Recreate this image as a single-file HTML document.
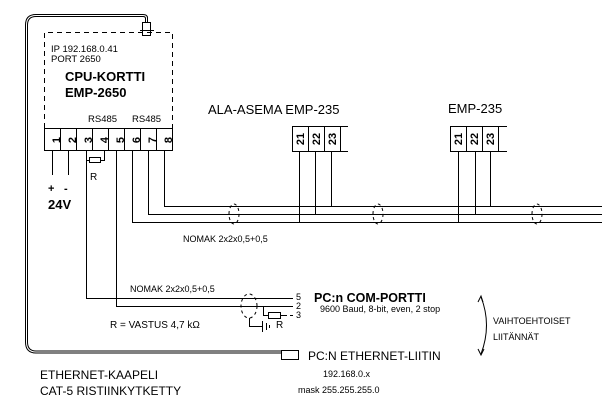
<!DOCTYPE html>
<html><head><meta charset="utf-8"><style>
html,body{margin:0;padding:0;background:#fff;}
svg{display:block;font-family:"Liberation Sans",sans-serif;}
</style></head><body>
<svg width="602" height="415" viewBox="0 0 602 415" xmlns="http://www.w3.org/2000/svg">
<g fill="none" stroke="#000" stroke-width="1">
<path d="M147.5 22 V18 Q147.5 14.5 143 14.5 H36 Q25.5 14.5 25.5 25 V342 Q25.5 353 36 353 H281"/>
<path d="M145.5 22 V18.5 Q145.5 16.5 143 16.5 H36 Q27.5 16.5 27.5 25 V342 Q27.5 351 36 351 H281" stroke="#000"/>
<rect x="142.5" y="22.5" width="8" height="13" fill="#fff"/>
<line x1="140" y1="30.5" x2="154" y2="30.5"/>
<rect x="281.5" y="350.5" width="17" height="9" fill="#fff"/>
<path d="M44.5 128 V32.5 H172.5 V128" stroke-dasharray="5,4"/>
<rect x="44.5" y="128.5" width="128" height="22"/>
<line x1="60.5" y1="128" x2="60.5" y2="151"/><line x1="76.5" y1="128" x2="76.5" y2="151"/>
<line x1="92.5" y1="128" x2="92.5" y2="151"/><line x1="108.5" y1="128" x2="108.5" y2="151"/>
<line x1="124.5" y1="128" x2="124.5" y2="151"/><line x1="140.5" y1="128" x2="140.5" y2="151"/>
<line x1="156.5" y1="128" x2="156.5" y2="151"/>
<line x1="52.5" y1="151" x2="52.5" y2="175"/><line x1="68.5" y1="151" x2="68.5" y2="175"/>
<path d="M86.5 151 V298.5 H290"/>
<path d="M86.5 160.5 H104.5 V151"/>
<rect x="89.5" y="157.5" width="11" height="5" fill="#fff"/>
<path d="M116.5 151 V306.5 H290"/>
<path d="M132.5 151 V222.5 H602"/>
<path d="M148.5 151 V214.5 H602"/>
<path d="M164.5 151 V206.5 H602"/>
<rect x="292.5" y="126.5" width="48" height="25"/>
<line x1="308.5" y1="126" x2="308.5" y2="152"/><line x1="324.5" y1="126" x2="324.5" y2="152"/>
<path d="M340 126.5 H348 M340 151.5 H348"/>
<line x1="299.5" y1="152" x2="299.5" y2="222"/><line x1="315.5" y1="152" x2="315.5" y2="214"/><line x1="331.5" y1="152" x2="331.5" y2="206"/>
<rect x="450.5" y="126.5" width="48" height="25"/>
<line x1="466.5" y1="126" x2="466.5" y2="152"/><line x1="482.5" y1="126" x2="482.5" y2="152"/>
<path d="M498 126.5 H507 M498 151.5 H507"/>
<line x1="458.5" y1="152" x2="458.5" y2="222"/><line x1="475.5" y1="152" x2="475.5" y2="214"/><line x1="490.5" y1="152" x2="490.5" y2="206"/>
<g stroke-dasharray="3,3">
<ellipse cx="234" cy="214" rx="5" ry="10"/>
<ellipse cx="378" cy="214" rx="5" ry="10"/>
<ellipse cx="537" cy="214" rx="5" ry="10"/>
<ellipse cx="249" cy="306" rx="8" ry="12"/>
<path d="M290 298.5 H294 M290 306.5 H294 M284 315.5 H294"/>
</g>
<path d="M263.5 306.5 V315.5 H268"/>
<rect x="268.5" y="312.5" width="12" height="6"/>
<line x1="280" y1="315.5" x2="284" y2="315.5"/>
<path d="M249.5 318 V326.5 H262"/>
<line x1="262.5" y1="321" x2="262.5" y2="332"/><line x1="266.5" y1="323" x2="266.5" y2="330"/><line x1="269.5" y1="325" x2="269.5" y2="328"/>
<path d="M481 297 Q492 325 481 354"/>
<path d="M478 302 L481 296 L483 302 M478 349 L481 355 L484 349"/>
</g>
<g fill="#000">
<text x="51" y="52" font-size="9.5">IP 192.168.0.41</text>
<text x="51" y="62" font-size="9.5">PORT 2650</text>
<text x="65" y="81" font-size="13" font-weight="bold">CPU-KORTTI</text>
<text x="65" y="97" font-size="13" font-weight="bold">EMP-2650</text>
<text x="88" y="122" font-size="9.5">RS485</text>
<text x="132" y="122" font-size="9.5">RS485</text>
<g font-size="11" font-weight="bold">
<text transform="translate(57,140) rotate(-90)" text-anchor="middle" dominant-baseline="middle">1</text>
<text transform="translate(73,140) rotate(-90)" text-anchor="middle" dominant-baseline="middle">2</text>
<text transform="translate(89,140) rotate(-90)" text-anchor="middle" dominant-baseline="middle">3</text>
<text transform="translate(105,140) rotate(-90)" text-anchor="middle" dominant-baseline="middle">4</text>
<text transform="translate(121,140) rotate(-90)" text-anchor="middle" dominant-baseline="middle">5</text>
<text transform="translate(137,140) rotate(-90)" text-anchor="middle" dominant-baseline="middle">6</text>
<text transform="translate(153,140) rotate(-90)" text-anchor="middle" dominant-baseline="middle">7</text>
<text transform="translate(169,140) rotate(-90)" text-anchor="middle" dominant-baseline="middle">8</text>
<text transform="translate(301,139) rotate(-90)" text-anchor="middle" dominant-baseline="middle">21</text>
<text transform="translate(317,139) rotate(-90)" text-anchor="middle" dominant-baseline="middle">22</text>
<text transform="translate(333,139) rotate(-90)" text-anchor="middle" dominant-baseline="middle">23</text>
<text transform="translate(459,139) rotate(-90)" text-anchor="middle" dominant-baseline="middle">21</text>
<text transform="translate(475,139) rotate(-90)" text-anchor="middle" dominant-baseline="middle">22</text>
<text transform="translate(491,139) rotate(-90)" text-anchor="middle" dominant-baseline="middle">23</text>
</g>
<text x="90" y="180" font-size="10">R</text>
<text x="48" y="192" font-size="11" font-weight="bold">+</text>
<text x="64" y="192" font-size="11" font-weight="bold">-</text>
<text x="48" y="209" font-size="13" font-weight="bold">24V</text>
<text x="208" y="114" font-size="13">ALA-ASEMA EMP-235</text>
<text x="448" y="113" font-size="13">EMP-235</text>
<text x="183" y="242" font-size="9">NOMAK 2x2x0,5+0,5</text>
<text x="130" y="292" font-size="9">NOMAK 2x2x0,5+0,5</text>
<text x="296" y="300" font-size="9">5</text>
<text x="296" y="309" font-size="9">2</text>
<text x="296" y="318" font-size="9">3</text>
<text x="314" y="302" font-size="12.5" font-weight="bold">PC:n COM-PORTTI</text>
<text x="320" y="312" font-size="9">9600 Baud, 8-bit, even, 2 stop</text>
<text x="276" y="328" font-size="10">R</text>
<text x="110" y="328" font-size="10">R = VASTUS 4,7 kΩ</text>
<text x="493" y="324" font-size="9">VAIHTOEHTOISET</text>
<text x="493" y="340" font-size="9">LIITÄNNÄT</text>
<text x="308" y="360" font-size="12">PC:N ETHERNET-LIITIN</text>
<text x="323" y="377" font-size="9">192.168.0.x</text>
<text x="298" y="393" font-size="9">mask 255.255.255.0</text>
<text x="40" y="379" font-size="12">ETHERNET-KAAPELI</text>
<text x="40" y="395" font-size="12">CAT-5 RISTIINKYTKETTY</text>
</g>
</svg>
</body></html>
